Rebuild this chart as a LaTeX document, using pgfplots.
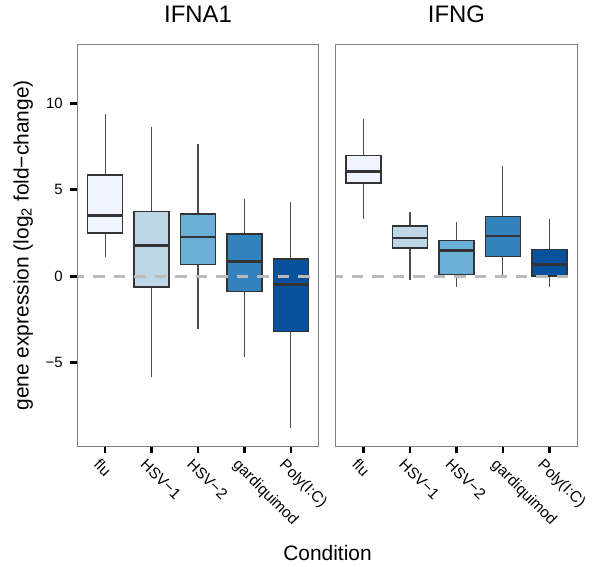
\documentclass[border=0pt]{standalone}
\usepackage{fontspec}
\setmainfont{Liberation Sans}
\usepackage{pgfplots}
\pgfplotsset{compat=1.18}
\usepgfplotslibrary{statistics}

\definecolor{b1}{HTML}{EFF3FF}
\definecolor{b2}{HTML}{BDD7E7}
\definecolor{b3}{HTML}{6BAED6}
\definecolor{b4}{HTML}{3182BD}
\definecolor{b5}{HTML}{08519C}
\definecolor{edge}{HTML}{333333}
\definecolor{whisk}{HTML}{4D4D4D}
\definecolor{frame}{HTML}{7F7F7F}
\definecolor{zeroline}{HTML}{BBBBBB}

\pgfplotsset{
  panel/.style={
    anchor=north west,
    scale only axis,
    width=241.5bp, height=402bp,
    xmin=-0.6, xmax=4.6,
    ymin=-9.83, ymax=13.41,
    axis line style={draw=frame, line width=1.2bp},
    tick align=outside,
    major tick length=7bp,
    every tick/.style={draw=black, line width=2.6bp},
    xtick style={draw=black, line width=2.6bp},
    ytick style={draw=black, line width=2.6bp},
    xtick pos=bottom, ytick pos=left,
    xtick={0,1,2,3,4},
    xticklabels={flu,HSV−1,HSV−2,gardiquimod,Poly(I:C)},
    xticklabel style={font=\fontsize{15.5}{17}\selectfont, rotate=-45, anchor=north west, inner sep=1bp, yshift=-5bp, xshift=-1bp},
    yticklabel style={font=\fontsize{15}{17}\selectfont, xshift=-4bp},
    title style={font=\fontsize{24}{28}\selectfont, anchor=base, yshift=16.3bp},
    clip=true,
    boxplot/draw direction=y,
    boxplot/every box/.style={draw=edge, line width=1.5bp},
    boxplot/every whisker/.style={draw=whisk, line width=1.1bp},
    boxplot/every median/.style={draw=edge, line width=2.8bp},
    boxplot/box extend=0.75,
    boxplot/whisker extend=0,
  },
  zero/.style={color=zeroline, line width=2.6bp, dash pattern=on 11.5bp off 9bp},
}

\begin{document}
\begin{tikzpicture}
\path (0,0) rectangle (595bp,-567bp);

\begin{axis}[panel, at={(77.3bp,-44.3bp)}, title={IFNA1},
  ytick={-5,0,5,10}, yticklabels={−5,0,5,10}]
\addplot[fill=b1, boxplot prepared={draw position=0, lower whisker=1.10, lower quartile=2.50, median=3.49, upper quartile=5.84, upper whisker=9.36}] coordinates {};
\addplot[fill=b2, boxplot prepared={draw position=1, lower whisker=-5.84, lower quartile=-0.62, median=1.77, upper quartile=3.73, upper whisker=8.63}] coordinates {};
\addplot[fill=b3, boxplot prepared={draw position=2, lower whisker=-3.06, lower quartile=0.69, median=2.27, upper quartile=3.60, upper whisker=7.63}] coordinates {};
\addplot[fill=b4, boxplot prepared={draw position=3, lower whisker=-4.68, lower quartile=-0.87, median=0.84, upper quartile=2.43, upper whisker=4.47}] coordinates {};
\addplot[fill=b5, boxplot prepared={draw position=4, lower whisker=-8.79, lower quartile=-3.20, median=-0.46, upper quartile=1.00, upper whisker=4.29}] coordinates {};
\addplot[zero] coordinates {(-0.7,0) (4.7,0)};
\end{axis}

\begin{axis}[panel, at={(335.7bp,-44.3bp)}, title={IFNG}, ytick=\empty]
\addplot[fill=b1, boxplot prepared={draw position=0, lower whisker=3.31, lower quartile=5.38, median=6.05, upper quartile=6.99, upper whisker=9.09}] coordinates {};
\addplot[fill=b2, boxplot prepared={draw position=1, lower whisker=-0.21, lower quartile=1.62, median=2.21, upper quartile=2.92, upper whisker=3.73}] coordinates {};
\addplot[fill=b3, boxplot prepared={draw position=2, lower whisker=-0.64, lower quartile=0.09, median=1.48, upper quartile=2.08, upper whisker=3.12}] coordinates {};
\addplot[fill=b4, boxplot prepared={draw position=3, lower whisker=0.02, lower quartile=1.13, median=2.33, upper quartile=3.45, upper whisker=6.38}] coordinates {};
\addplot[fill=b5, boxplot prepared={draw position=4, lower whisker=-0.64, lower quartile=0.02, median=0.69, upper quartile=1.54, upper whisker=3.29}] coordinates {};
\addplot[zero] coordinates {(-0.7,0) (4.7,0)};
\end{axis}

\node[rotate=90, anchor=base, font=\fontsize{21}{24}\selectfont] at (28.5bp,-245.3bp) {gene expression (log\textsubscript{2} fold−change)};
\node[anchor=base, font=\fontsize{21}{24}\selectfont] at (327.5bp,-560bp) {Condition};
\end{tikzpicture}
\end{document}
